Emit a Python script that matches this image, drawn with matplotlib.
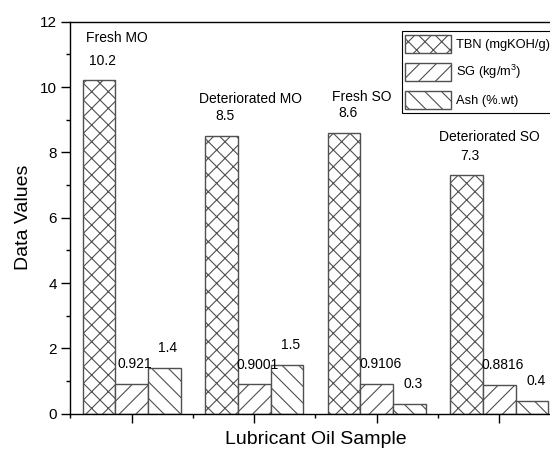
import matplotlib
matplotlib.use('Agg')
import matplotlib.pyplot as plt
import numpy as np

plt.rcParams['font.family'] = ['Liberation Sans', 'DejaVu Sans']
plt.rcParams['mathtext.fontset'] = 'custom'
plt.rcParams['mathtext.rm'] = 'Liberation Sans'
plt.rcParams['mathtext.it'] = 'Liberation Sans:italic'
plt.rcParams['hatch.linewidth'] = 0.8

# Data
samples = ['Fresh MO', 'Deteriorated MO', 'Fresh SO', 'Deteriorated SO']
tbn = [10.2, 8.5, 8.6, 7.3]
sg = [0.921, 0.9001, 0.9106, 0.8816]
ash = [1.4, 1.5, 0.3, 0.4]
series_names = ['TBN (mgKOH/g)', 'SG (kg/m$^3$)', 'Ash (%.wt)']
hatches = ['xx', '//', '\\\\']

# label offsets for the sample names (x from group centre, y above TBN bar)
name_offsets = [(-0.116, 1.30), (-0.026, 1.13), (-0.124, 1.10), (-0.078, 1.18)]

x = np.arange(1, len(samples) + 1)
w = 0.2667

fig = plt.figure(figsize=(5.5, 4.53), dpi=100)
# axes extends a little beyond the right edge, as in the original crop
ax = fig.add_axes([0.1278, 0.0868, 0.8916, 0.8653])

edge = '#505050'
series = [tbn, sg, ash]
for i, (vals, name, h) in enumerate(zip(series, series_names, hatches)):
    pos = x + (i - 1) * w
    ax.bar(pos, vals, width=w, color='white', edgecolor=edge, hatch=h,
           linewidth=1.0, label=name)
    for p, v in zip(pos, vals):
        ax.text(p + 0.03, v + 0.6, f'{v:g}', ha='center', va='center',
                fontsize=10)

for xi, name, top, (dx, dy) in zip(x, samples, tbn, name_offsets):
    ax.text(xi + dx, top + dy, name, ha='center', va='center', fontsize=10)

ax.set_xlim(0.5, 4.5)
ax.set_ylim(0, 12)
ax.set_xticks(x)
ax.set_xticklabels([])
ax.set_xticks(np.arange(0.5, 5, 1), minor=True)
ax.set_yticks(np.arange(0, 13, 2))
ax.set_yticks(np.arange(1, 12, 2), minor=True)
ax.tick_params(axis='both', which='major', direction='out', length=6.5,
               width=1, labelsize=11, pad=3)
ax.tick_params(axis='both', which='minor', direction='out', length=3,
               width=1)
ax.tick_params(axis='y', which='both', right=False)
ax.tick_params(axis='x', which='both', top=False)
for s in ax.spines.values():
    s.set_linewidth(1.0)

ax.set_ylabel('Data Values', fontsize=14)
ax.yaxis.set_label_coords(-0.078, 0.5)
ax.set_xlabel('Lubricant Oil Sample', fontsize=14)
ax.xaxis.set_label_coords(0.5, -0.045)

leg = ax.legend(loc='upper left', bbox_to_anchor=(0.730, 0.9316),
                bbox_transform=fig.transFigure, fontsize=9.3,
                fancybox=False, edgecolor='black', framealpha=1,
                handlelength=3.5, handleheight=1.8, labelspacing=0.75,
                handletextpad=0.4, borderpad=0.3, borderaxespad=0)
leg.get_frame().set_linewidth(0.8)

plt.savefig('out.png', dpi=100)
plt.close()
